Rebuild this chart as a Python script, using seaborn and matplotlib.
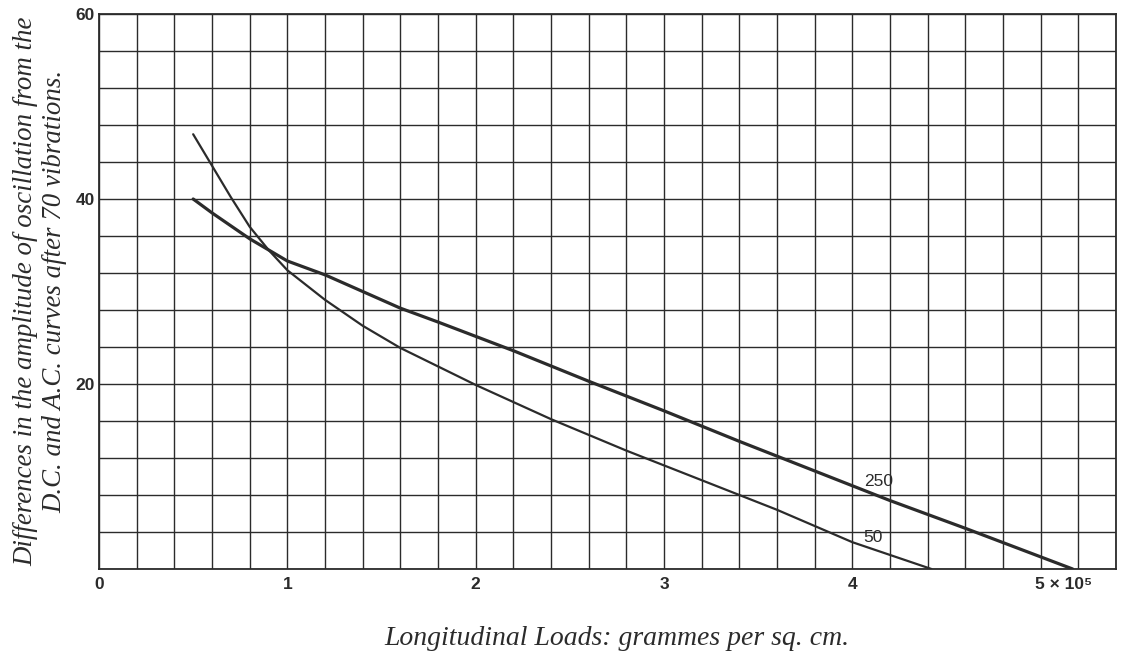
import matplotlib
matplotlib.use("Agg")
import matplotlib.pyplot as plt
from matplotlib.ticker import MultipleLocator, FixedLocator
from matplotlib.transforms import ScaledTranslation
import seaborn as sns
import pandas as pd

# ---- data ----
load_250_x = [0.5, 0.6, 0.8, 0.9, 1.0, 1.2, 1.4, 1.6, 1.8, 2.2, 2.6, 3.0, 3.4, 3.6, 4.2, 4.6, 5.17]
load_250_y = [40.0, 38.5, 35.7, 34.5, 33.3, 31.8, 30.0, 28.2, 26.7, 23.6, 20.3, 17.1, 13.8, 12.2, 7.4, 4.4, 0.0]
load_50_x = [0.5, 0.6, 0.7, 0.8, 0.9, 1.0, 1.2, 1.4, 1.6, 1.8, 2.0, 2.4, 2.8, 3.2, 3.6, 4.0, 4.42]
load_50_y = [47.0, 43.6, 40.2, 37.0, 34.5, 32.3, 29.1, 26.3, 23.9, 21.9, 19.9, 16.2, 12.8, 9.6, 6.4, 2.9, 0.0]
series_names = ["250", "50"]
x_ticks = [0, 1, 2, 3, 4, 5]
x_tick_labels = ["0", "1", "2", "3", "4", "5 \u00d7 10\u2075"]
y_ticks = [20, 40, 60]
y_tick_labels = ["20", "40", "60"]

df = pd.concat([
    pd.DataFrame({"load": load_250_x, "diff": load_250_y, "series": "250"}),
    pd.DataFrame({"load": load_50_x, "diff": load_50_y, "series": "50"}),
], ignore_index=True)

sns.set_theme(style="white")
plt.rcParams["font.family"] = ["Liberation Sans", "DejaVu Sans"]

ink = "#2b2b2b"
fig = plt.figure(figsize=(11.25, 6.54), dpi=100)
ax = fig.add_axes([99 / 1125, 1 - 569 / 654, (1116 - 99) / 1125, (569 - 14) / 654])

widths = {"250": 2.3, "50": 1.6}
for name in series_names:
    sub = df[df["series"] == name]
    sns.lineplot(data=sub, x="load", y="diff", ax=ax, color=ink,
                 linewidth=widths[name], sort=False, estimator=None, legend=False)

ax.set_xlim(0, 5.4)
ax.set_ylim(0, 60)
ax.xaxis.set_major_locator(FixedLocator(x_ticks))
ax.xaxis.set_minor_locator(MultipleLocator(0.2))
ax.yaxis.set_major_locator(FixedLocator(y_ticks))
ax.yaxis.set_minor_locator(MultipleLocator(4))
ax.set_xticklabels(x_tick_labels, fontsize=12.5, fontweight="bold", color=ink)
ax.set_yticklabels(y_tick_labels, fontsize=12.5, fontweight="bold", color=ink)
ax.tick_params(which="both", length=0)
ax.tick_params(axis="x", pad=6)
ax.tick_params(axis="y", pad=3)

# shift the "5 x 10^5" label so that its "5" sits on the tick
lbl = ax.get_xticklabels()[-1]
lbl.set_horizontalalignment("left")
lbl.set_transform(lbl.get_transform() + ScaledTranslation(-6 / 100, 0, fig.dpi_scale_trans))

ax.grid(True, which="both", color=ink, linewidth=1.0)
for s in ax.spines.values():
    s.set_visible(True)
    s.set_color(ink)
    s.set_linewidth(1.3)

# curve labels
ax.text(4.14, 9.5, "250", fontsize=12.5, color=ink, ha="center", va="center")
ax.text(4.11, 3.4, "50", fontsize=12.5, color=ink, ha="center", va="center")

serif = ["Liberation Serif", "DejaVu Serif"]
ax.set_xlabel("Longitudinal Loads: grammes per sq. cm.", fontsize=20,
              fontstyle="italic", family=serif, color=ink, labelpad=24)
ax.xaxis.label.set_x(0.509)
ax.set_ylabel("Differences in the amplitude of oscillation from the\nD.C. and A.C. curves after 70 vibrations.",
              fontsize=19.4, fontstyle="italic", family=serif,
              color=ink, labelpad=6, linespacing=1.2)

fig.savefig("out.png", dpi=100, facecolor="white")
